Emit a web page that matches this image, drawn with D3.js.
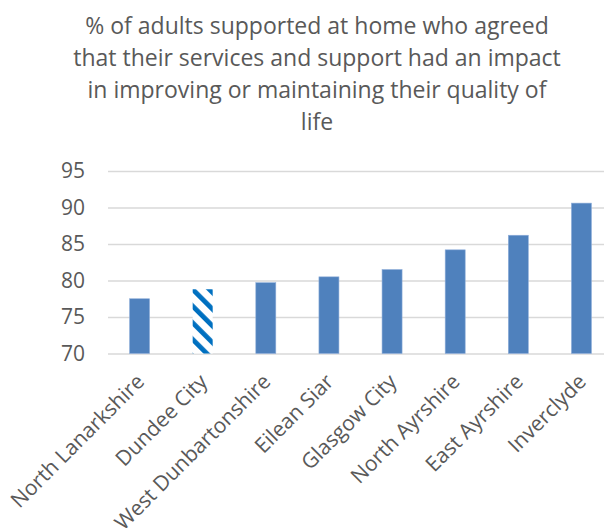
<!DOCTYPE html>
<html>
<head>
<meta charset="utf-8">
<script src="https://cdn.jsdelivr.net/npm/d3@7"></script>
<style>
  html, body { margin: 0; padding: 0; background: #fff; }
  svg { display: block; }
  text { font-family: "Open Sans", "Liberation Sans", sans-serif; fill: #595959; }
</style>
</head>
<body>
<svg id="chart" width="604" height="528"></svg>
<script>
// Council areas, in the order shown along the x axis
const categories = [
  "North Lanarkshire", "Dundee City", "West Dunbartonshire", "Eilean Siar",
  "Glasgow City", "North Ayrshire", "East Ayrshire", "Inverclyde"
];
// Percentage agreeing services had a positive impact on quality of life
const values = [77.5, 78.8, 79.7, 80.5, 81.5, 84.2, 86.2, 90.6];
// Area highlighted with a hatched bar
const highlighted = ["Dundee City"];
// Value axis ticks
const yTicks = [70, 75, 80, 85, 90, 95];
// Chart title, one entry per line
const titleLines = [
  "% of adults supported at home who agreed",
  "that their services and support had an impact",
  "in improving or maintaining their quality of",
  "life"
];

const svg = d3.select("#chart");

const x = d3.scaleBand()
  .domain(categories)
  .range([108, 613])
  .paddingInner(0.683)
  .paddingOuter(0.3415);

const y = d3.scaleLinear()
  .domain([70, 95])
  .range([353.5, 171]);

// Diagonal stripe fill for the highlighted bar
const defs = svg.append("defs");
const pat = defs.append("pattern")
  .attr("id", "hatch")
  .attr("patternUnits", "userSpaceOnUse")
  .attr("width", 11.8)
  .attr("height", 11.8)
  .attr("patternTransform", "rotate(-45)");
pat.append("rect").attr("width", 11.8).attr("height", 11.8).attr("fill", "#ffffff");
pat.append("rect").attr("x", 0).attr("width", 4.8).attr("height", 11.8).attr("fill", "#0070C0");

// Title
svg.append("text")
  .attr("text-anchor", "middle")
  .style("font-size", "23px")
  .selectAll("tspan")
  .data(titleLines)
  .join("tspan")
  .attr("x", 317)
  .attr("y", (d, i) => 33.5 + i * 32)
  .text(d => d);

// Horizontal gridlines and tick labels
const yAxis = d3.axisLeft(y)
  .tickValues(yTicks)
  .tickSize(-(620 - 108))
  .tickPadding(23);

const gy = svg.append("g")
  .attr("transform", "translate(108,0)")
  .call(yAxis);
gy.select(".domain").remove();
gy.selectAll(".tick line")
  .attr("stroke", "#d9d9d9")
  .attr("stroke-width", 1.6);
gy.selectAll(".tick text")
  .attr("fill", "#595959")
  .style("font-size", "21px")
  .style("font-family", "'Open Sans', sans-serif");

// Bars
svg.append("g")
  .selectAll("rect")
  .data(categories.map((c, i) => ({ c, v: values[i] })))
  .join("rect")
  .attr("x", d => x(d.c))
  .attr("width", x.bandwidth())
  .attr("y", d => y(d.v))
  .attr("height", d => y(70) - y(d.v))
  .attr("fill", d => highlighted.includes(d.c) ? "url(#hatch)" : "#4F81BD")
  .attr("stroke", d => highlighted.includes(d.c) ? "none" : "#8FAEDA")
  .attr("stroke-width", 0.6);

// Category labels, rotated
svg.append("g")
  .selectAll("text")
  .data(categories)
  .join("text")
  .attr("text-anchor", "end")
  .attr("transform", d => `translate(${x(d) + x.bandwidth() / 2 + 6},383) rotate(-45)`)
  .style("font-size", "21px")
  .text(d => d);
</script>
</body>
</html>
